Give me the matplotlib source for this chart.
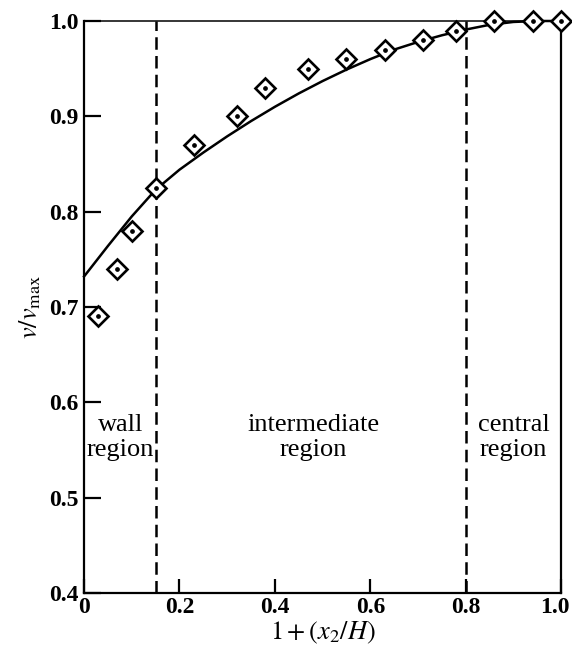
import matplotlib
matplotlib.use("Agg")
import matplotlib.pyplot as plt
from matplotlib.transforms import ScaledTranslation

# measured velocity ratios
x_meas = [0.03, 0.07, 0.10, 0.15, 0.23, 0.32, 0.38, 0.47, 0.55, 0.63, 0.71, 0.78, 0.86, 0.94, 1.0]
v_meas = [0.69, 0.74, 0.78, 0.825, 0.87, 0.90, 0.93, 0.95, 0.96, 0.97, 0.98, 0.99, 1.0, 1.0, 1.0]

# predicted profile
x_curve = [0.0, 0.05, 0.10, 0.15, 0.20, 0.25, 0.30, 0.35, 0.40, 0.45, 0.50,
           0.55, 0.60, 0.65, 0.70, 0.75, 0.80, 0.85, 0.90, 0.95, 1.0]
v_curve = [0.732, 0.764, 0.795, 0.823, 0.844, 0.862, 0.879, 0.895, 0.910, 0.924, 0.937,
           0.949, 0.960, 0.970, 0.978, 0.985, 0.991, 0.996, 0.999, 1.0, 1.0]

# region boundaries
boundaries = [0.15, 0.8]

x_ticks = [0, 0.2, 0.4, 0.6, 0.8, 1.0]
x_ticklabels = ["0", "0.2", "0.4", "0.6", "0.8", "1.0"]
y_ticks = [0.4, 0.5, 0.6, 0.7, 0.8, 0.9, 1.0]
y_ticklabels = ["0.4", "0.5", "0.6", "0.7", "0.8", "0.9", "1.0"]

plt.rcParams["mathtext.fontset"] = "stix"
serif = "Liberation Serif"

fig = plt.figure(figsize=(5.72, 6.48), dpi=100)
ax = fig.add_axes([0.147, 0.085, 0.834, 0.8826])
ax.set_xlim(0, 1.0)
ax.set_ylim(0.4, 1.0)

for s in ax.spines.values():
    s.set_linewidth(1.6)
ax.spines["top"].set_linewidth(1.1)

ax.plot(x_curve, v_curve, color="black", lw=1.8, clip_on=False, zorder=3,
        solid_joinstyle="round")

for b in boundaries:
    ax.plot([b, b], [0.4, 1.0], color="black", lw=1.8, ls=(0, (5, 2.5)), zorder=2)

ax.plot(x_meas, v_meas, ls="none", marker="D", ms=10, mfc="white", mec="black",
        mew=1.9, clip_on=False, zorder=4)
ax.plot(x_meas, v_meas, ls="none", marker="o", ms=2.4, color="black",
        clip_on=False, zorder=5)

ax.set_xticks(x_ticks)
ax.set_xticklabels(x_ticklabels)
ax.set_yticks(y_ticks)
ax.set_yticklabels(y_ticklabels)
ax.tick_params(axis="both", direction="in", width=1.6, colors="black")
ax.tick_params(axis="y", length=12, pad=4)
ax.tick_params(axis="x", length=10, pad=3)
for lab in ax.get_xticklabels() + ax.get_yticklabels():
    lab.set_fontfamily(serif)
    lab.set_fontweight("bold")
    lab.set_fontsize(17)
last = ax.get_xticklabels()[-1]
last.set_transform(last.get_transform() + ScaledTranslation(-6 / 100, 0, fig.dpi_scale_trans))

ax.set_xlabel(r"$1+(x_2/H)$", fontsize=19, labelpad=1)
ax.set_ylabel(r"$v/v_{\mathrm{max}}$", fontsize=19, labelpad=4)

txt = dict(family=serif, fontsize=19, ha="center", va="center", linespacing=1.2)
ax.text(0.076, 0.563, "wall\nregion", **txt)
ax.text(0.481, 0.563, "intermediate\nregion", **txt)
ax.text(0.9, 0.563, "central\nregion", **txt)

fig.savefig("out.png", dpi=100)
